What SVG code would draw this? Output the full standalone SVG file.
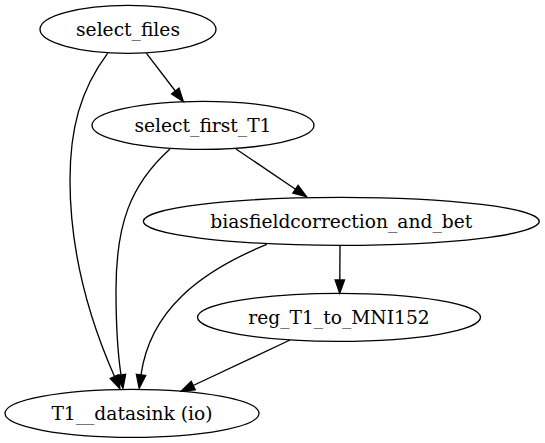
<svg xmlns="http://www.w3.org/2000/svg" width="545" height="443" viewBox="0 0 545 443">
<style>
.node ellipse{fill:none;stroke:#000;stroke-width:1.33}
.node text{font-family:"DejaVu Serif",serif;font-size:18.67px;text-anchor:middle;fill:#000}
.edge{fill:none;stroke:#000;stroke-width:1.33;marker-end:url(#ah)}
</style>
<defs>
<marker id="ah" markerUnits="userSpaceOnUse" markerWidth="16" markerHeight="12" refX="0" refY="0" viewBox="0 -6 16 12" orient="auto" overflow="visible">
<path d="M0,-4.67 L13.33,0 L0,4.67 Z" fill="#000" stroke="#000" stroke-width="1.33"/>
</marker>
</defs>
<rect width="545" height="443" fill="#fff"/>
<g id="edges">
<path class="edge" d="M146.5,53.3 L175.3,91"/>
<path class="edge" d="M107.6,53.3 C80,90 70,130 70,180 C70,260 94,330 114.5,376.5"/>
<path class="edge" d="M170,149 C130,185 116,225 116,290 C116,330 118,355 121,375"/>
<path class="edge" d="M266.7,244.3 C200,272 150,310 141,375"/>
<path class="edge" d="M340,245.7 L339.8,280"/>
<path class="edge" d="M290,340 L193.2,385.5"/>
<path class="edge" d="M236,149 L295.5,189.2"/>
</g>
<g id="select_files" class="node">
<ellipse cx="128" cy="29.33" rx="88" ry="24"/>
<text x="128" y="35.8">select_files</text>
</g>
<g id="select_first_T1" class="node">
<ellipse cx="203" cy="125.33" rx="111" ry="24"/>
<text x="203" y="131.8">select_first_T1</text>
</g>
<g id="biasfieldcorrection_and_bet" class="node">
<ellipse cx="341.3" cy="221.33" rx="198" ry="24"/>
<text x="341.3" y="227.8">biasfieldcorrection_and_bet</text>
</g>
<g id="reg_T1_to_MNI152" class="node">
<ellipse cx="339" cy="317.33" rx="141.5" ry="24"/>
<text x="339" y="323.8">reg_T1_to_MNI152</text>
</g>
<g id="T1__datasink" class="node">
<ellipse cx="132" cy="413.33" rx="127" ry="24"/>
<text x="132" y="419.8">T1__datasink (io)</text>
</g>
</svg>
